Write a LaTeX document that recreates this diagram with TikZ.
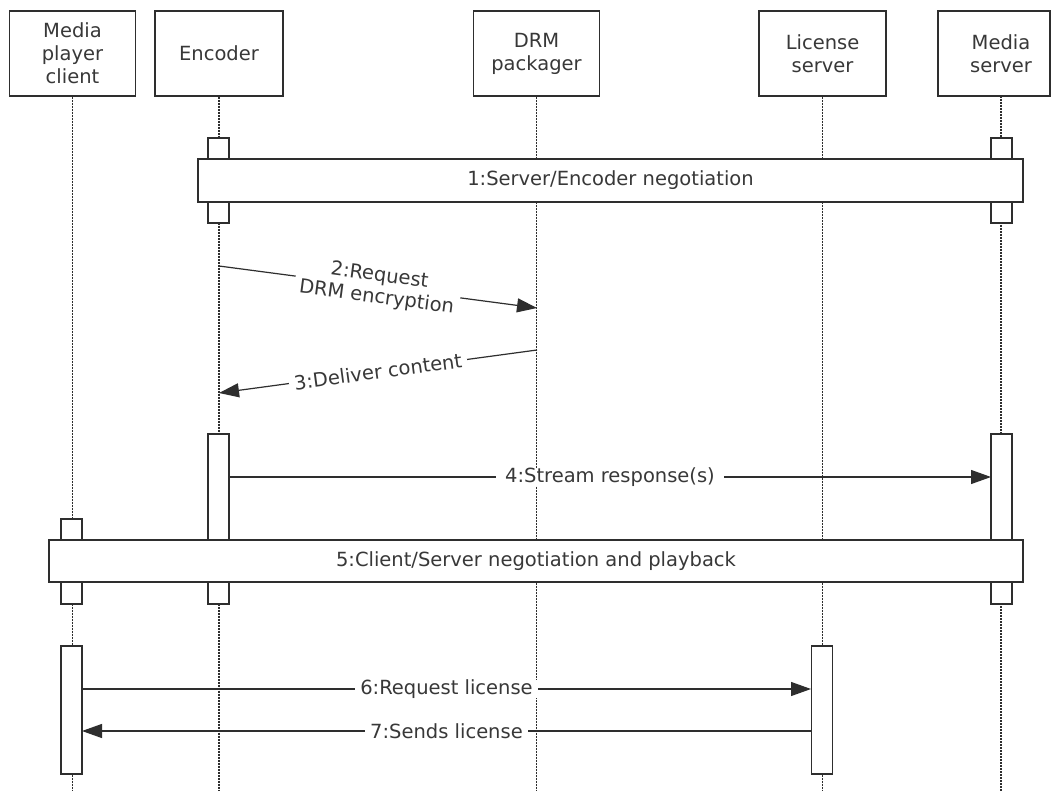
\documentclass[tikz,border=0pt]{standalone}
\usepackage{fontspec}
\setmainfont{DejaVu Sans}
\usetikzlibrary{arrows.meta}
\definecolor{ln}{HTML}{2E2E2E}
\definecolor{tx}{HTML}{383838}
\begin{document}
\begin{tikzpicture}[x=1pt,y=-1pt,
  every node/.style={font=\fontsize{19.5}{23}\selectfont, text=tx},
  hdr/.style={draw=ln, line width=1.2pt, fill=white, minimum width=126pt, minimum height=85pt, align=center, inner sep=0pt},
  act/.style={draw=ln, line width=1.2pt, fill=white, minimum width=21pt, inner sep=0pt},
  wide/.style={draw=ln, line width=1.2pt, fill=white, inner sep=0pt},
  life/.style={draw=ln, line width=1.1pt, dash pattern=on 2pt off 1pt},
  msg/.style={draw=ln, line width=1.2pt, -{Triangle[length=20pt,width=14pt]}},
  lbl/.style={fill=white, inner xsep=5pt, inner ysep=0pt, align=center, font=\fontsize{19.5}{22}\selectfont}
]
\useasboundingbox (0,0) rectangle (1051,791);
\fill[white] (0,0) rectangle (1051,791);
\coordinate (bottom) at (0,791);

% headers
\node[hdr] (client) at (72.5,53.5) {Media\\player\\client};
\node[hdr, minimum width=128pt] (encoder) at (219,53.5) {Encoder};
\node[hdr] (drm) at (536.5,53.5) {DRM\\packager};
\node[hdr, minimum width=127pt] (license) at (822.5,53.5) {License\\server};
\node[hdr, minimum width=112pt] (media) at (994,53.5) {};
\node[align=center, inner sep=0pt] (mediatxt) at (1001,53.5) {Media\\server};
\coordinate (mediab) at (1001,96);

% lifelines
\draw[life] (client.south) -- (client.south |- bottom);
\draw[life] (encoder.south) -- (encoder.south |- bottom);
\draw[life] (drm.south) -- (drm.south |- bottom);
\draw[life] (license.south) -- (license.south |- bottom);
\draw[life] (mediab) -- (mediab |- bottom);

% activations
\node[act, minimum height=85pt] (e1) at (218.5,180.5) {};
\node[act, minimum height=85pt] (m1) at (1001.5,180.5) {};
\node[wide, minimum width=825pt, minimum height=43pt] (w1) at (610.5,180.5) {1:Server/Encoder negotiation};

\node[act, minimum height=170pt] (e2) at (218.5,519) {};
\node[act, minimum height=170pt] (m2) at (1001.5,519) {};
\node[act, minimum height=85pt] (c1) at (71.5,561.5) {};
\node[wide, minimum width=974pt, minimum height=42pt] (w5) at (536,561) {5:Client/Server negotiation and playback};

\node[act, minimum height=128pt] (c2) at (71.5,710) {};
\node[act, minimum height=128pt] (l2) at (822,710) {};

% message end points
\coordinate (a2s) at (219,266);
\coordinate (a2e) at (537,308);
\coordinate (a3s) at (537,350);
\coordinate (a3e) at (219,393);
\coordinate (a4s) at (229,477);
\coordinate (a4e) at (991,477);
\coordinate (a6s) at (82,689);
\coordinate (a6e) at (811,689);
\coordinate (a7s) at (811,731);
\coordinate (a7e) at (82,731);

\draw[msg] (a2s) -- node[lbl, sloped] (l2txt) {2:Request\\DRM encryption} (a2e);
\draw[msg] (a3s) -- node[lbl, sloped] (l3txt) {3:Deliver content} (a3e);
\draw[msg] (a4s) -- node[lbl, inner xsep=9pt] (l4txt) {4:Stream response(s)} (a4e);
\draw[msg] (a6s) -- node[lbl] (l6txt) {6:Request license} (a6e);
\draw[msg] (a7s) -- node[lbl] (l7txt) {7:Sends license} (a7e);
\end{tikzpicture}
\end{document}
